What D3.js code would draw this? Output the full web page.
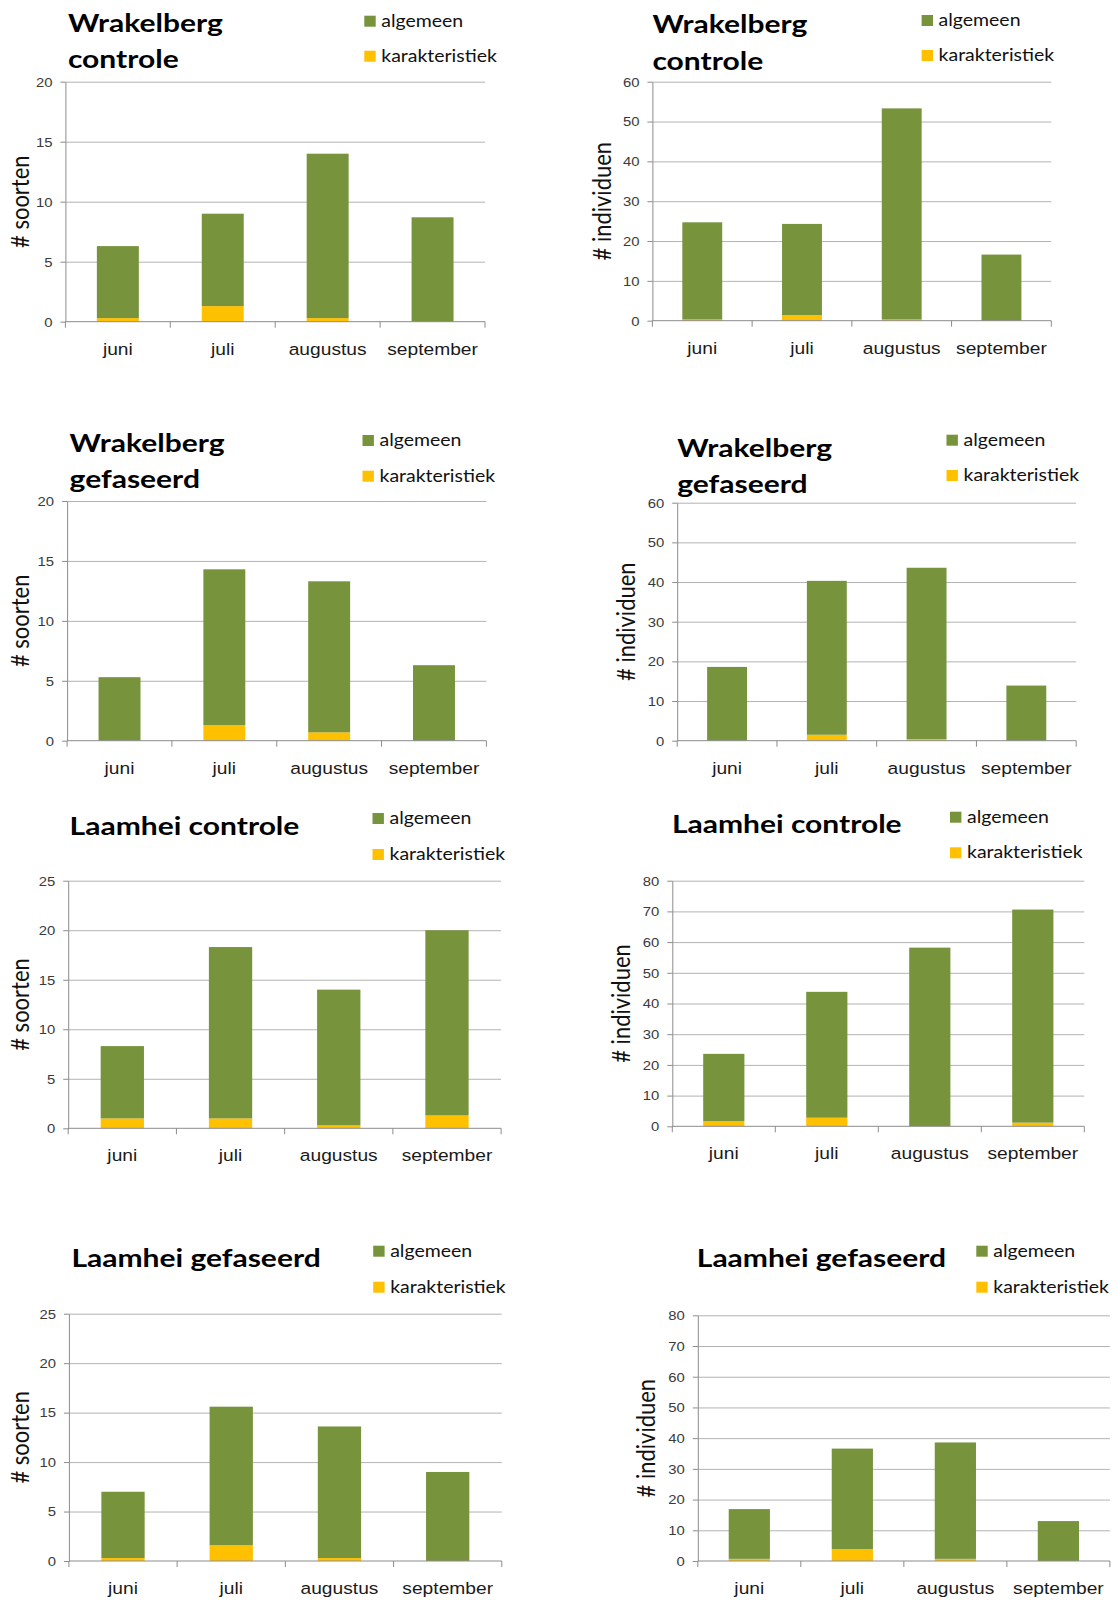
<!DOCTYPE html>
<html>
<head>
<meta charset="utf-8">
<script src="https://cdn.jsdelivr.net/npm/d3@7"></script>
<style>
  body { margin: 0; background: #fff; }
  svg { display: block; font-family: Lato, "Open Sans", sans-serif; }
  .grid line { stroke: #b3b3b3; }
  .grid path { display: none; }
  .yaxis path, .yaxis line { stroke: #8c8c8c; }
  .yaxis text { fill: #3a3a3a; font-size: 13.5px; }
  .xaxis path, .xaxis line { display: none; }
  .xaxis text { fill: #1a1a1a; font-size: 17px; }
</style>
</head>
<body>
<div id="chart"></div>
<script>
// months on the category axis
const months = ['juni', 'juli', 'augustus', 'september'];
const seriesNames = ['algemeen', 'karakteristiek'];
const seriesColors = ['#77933c', '#ffc000'];

// panel titles (multi-line where the original wraps)
const titles = [
  ['Wrakelberg', 'controle'], ['Wrakelberg', 'controle'],
  ['Wrakelberg', 'gefaseerd'], ['Wrakelberg', 'gefaseerd'],
  ['Laamhei controle'], ['Laamhei controle'],
  ['Laamhei gefaseerd'], ['Laamhei gefaseerd']
];
const yTitles = ['# soorten', '# individuen', '# soorten', '# individuen',
  '# soorten', '# individuen', '# soorten', '# individuen'];
const yMax = [20, 60, 20, 60, 25, 80, 25, 80];
const yStep = [5, 10, 5, 10, 5, 10, 5, 10];

// values per panel, one per month
const karakteristiek = [
  [0.3, 1.3, 0.3, 0],
  [0.3, 1.4, 0.3, 0],
  [0, 1.3, 0.7, 0],
  [0, 1.5, 0.4, 0],
  [1.0, 1.0, 0.3, 1.3],
  [1.7, 2.8, 0, 1.2],
  [0.3, 1.6, 0.3, 0],
  [0.7, 3.9, 0.7, 0]
];
const algemeen = [
  [6.0, 7.7, 13.7, 8.7],
  [24.4, 22.9, 53.0, 16.6],
  [5.3, 13.0, 12.6, 6.3],
  [18.6, 38.8, 43.2, 13.9],
  [7.3, 17.3, 13.7, 18.7],
  [21.9, 41.0, 58.2, 69.4],
  [6.7, 14.0, 13.3, 9.0],
  [16.2, 32.7, 37.9, 13.0]
];

// where each panel sits on the page
const layout = [
  { l: 65.4, r: 485, t: 81.7, b: 321.7, tx: 67.9, ty: [31.7, 68], lx: 364.3, ly: [26.7, 61.7], ax: 19.6 },
  { l: 652.4, r: 1051.3, t: 81.7, b: 320.7, tx: 652.4, ty: [33, 70], lx: 921.6, ly: [26, 61], ax: 600.9 },
  { l: 67.1, r: 486.4, t: 501, b: 740.7, tx: 69.6, ty: [451.7, 488], lx: 362.5, ly: [446, 481.7], ax: 19.6 },
  { l: 677.2, r: 1076.2, t: 502.7, b: 740.7, tx: 677.2, ty: [456.7, 493], lx: 946.5, ly: [445.7, 481], ax: 625 },
  { l: 68.2, r: 501.1, t: 880.7, b: 1128.3, tx: 69.6, ty: [835], lx: 372.5, ly: [824, 860], ax: 19.6 },
  { l: 672.3, r: 1084.3, t: 880.7, b: 1126.3, tx: 671.9, ty: [833.3], lx: 950, ly: [822.7, 858.3], ax: 620.4 },
  { l: 68.9, r: 501.8, t: 1313.7, b: 1561, tx: 71.4, ty: [1267.3], lx: 373.2, ly: [1256.7, 1292.7], ax: 19.6 },
  { l: 697.8, r: 1109.9, t: 1315.3, b: 1561, tx: 696.8, ty: [1266.7], lx: 976.3, ly: [1256.7, 1292.7], ax: 645.3 }
];

// the original is a bit wider than tall, so text gets a small horizontal stretch
const SX = 1.18;

const svg = d3.select('#chart')
  .append('svg')
  .attr('width', 1117)
  .attr('height', 1600);

layout.forEach((p, i) => {
  const x = d3.scaleBand()
    .domain(months)
    .range([p.l, p.r])
    .paddingInner(0.6)
    .paddingOuter(0.3);

  const y = d3.scaleLinear()
    .domain([0, yMax[i]])
    .range([p.b, p.t]);

  const ticks = d3.range(0, yMax[i] + 0.001, yStep[i]);

  // gridlines
  svg.append('g')
    .attr('class', 'grid')
    .attr('transform', `translate(${p.l},0)`)
    .call(d3.axisLeft(y).tickValues(ticks.slice(1)).tickSize(-(p.r - p.l)).tickFormat(''));

  // stacked bars
  const stacked = d3.stack().keys([1, 0])(months.map((m, j) => ({ month: m, 0: algemeen[i][j], 1: karakteristiek[i][j] })));
  svg.append('g')
    .selectAll('g')
    .data(stacked)
    .join('g')
    .attr('fill', d => seriesColors[d.key])
    .selectAll('rect')
    .data(d => d)
    .join('rect')
    .attr('x', d => x(d.data.month))
    .attr('width', x.bandwidth())
    .attr('y', d => y(d[1]))
    .attr('height', d => y(d[0]) - y(d[1]));

  // y axis with labels
  const ya = svg.append('g')
    .attr('class', 'yaxis')
    .attr('transform', `translate(${p.l},0)`)
    .call(d3.axisLeft(y).tickValues(ticks).tickSize(5).tickPadding(8).tickSizeOuter(0));
  ya.selectAll('text').each(function () {
    const t = d3.select(this);
    const x0 = +t.attr('x');
    t.attr('x', 0).attr('transform', `translate(${x0},0) scale(1.1,1)`);
  });

  // category axis line and boundary ticks
  svg.append('line')
    .attr('x1', p.l).attr('x2', p.r)
    .attr('y1', p.b).attr('y2', p.b)
    .attr('stroke', '#8c8c8c');
  const step = x.step();
  svg.append('g')
    .selectAll('line')
    .data(d3.range(months.length + 1))
    .join('line')
    .attr('x1', k => p.l + k * step).attr('x2', k => p.l + k * step)
    .attr('y1', p.b).attr('y2', p.b + 6)
    .attr('stroke', '#8c8c8c');

  svg.append('g')
    .attr('class', 'xaxis')
    .attr('transform', `translate(0,${p.b})`)
    .call(d3.axisBottom(x).tickSize(0).tickPadding(21))
    .selectAll('text')
    .attr('transform', 'scale(1.13,1)');

  // y axis title
  svg.append('text')
    .attr('transform', `translate(${p.ax},${(p.t + p.b) / 2}) rotate(-90) scale(1,1.15)`)
    .attr('text-anchor', 'middle')
    .attr('dominant-baseline', 'central')
    .attr('font-size', 22)
    .attr('fill', '#111')
    .text(yTitles[i]);

  // title
  svg.append('g')
    .selectAll('text')
    .data(titles[i])
    .join('text')
    .attr('transform', (d, k) => `translate(${p.tx},${p.ty[k]}) scale(1.2,1)`)
    .attr('font-size', 25)
    .attr('font-weight', 700)
    .attr('fill', '#000')
    .text(d => d);

  // legend
  const leg = svg.append('g')
    .selectAll('g')
    .data(seriesNames)
    .join('g');
  leg.append('rect')
    .attr('x', p.lx)
    .attr('y', (d, k) => p.ly[k] - 11)
    .attr('width', 11.4)
    .attr('height', 11)
    .attr('fill', (d, k) => seriesColors[k]);
  leg.append('text')
    .attr('transform', (d, k) => `translate(${p.lx + 17},${p.ly[k]}) scale(${SX},1)`)
    .attr('font-size', 16.5)
    .attr('fill', '#111')
    .text(d => d);
});
</script>
</body>
</html>
